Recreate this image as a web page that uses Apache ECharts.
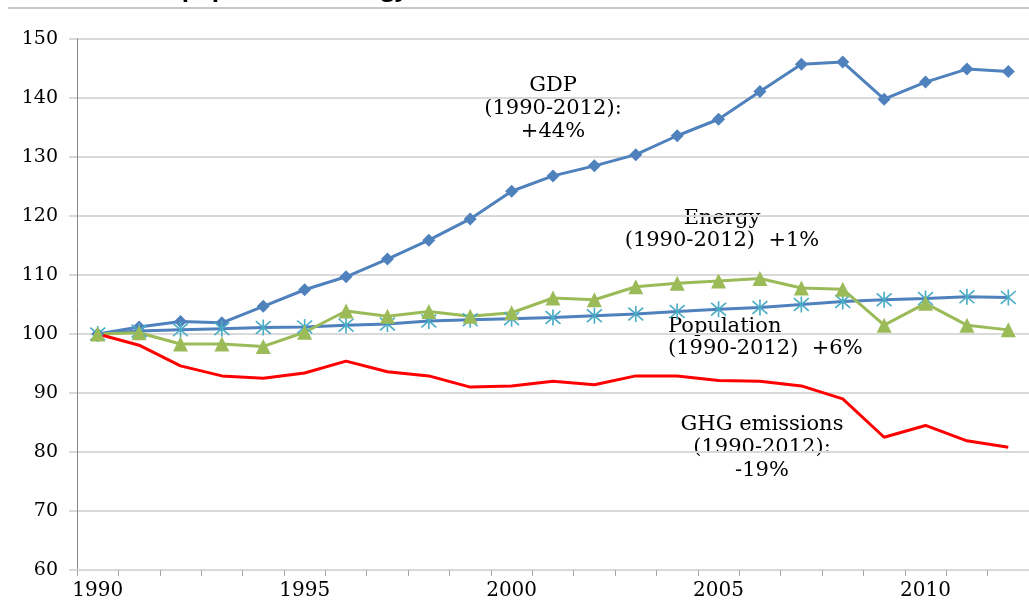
<!DOCTYPE html>
<html>
<head>
<meta charset="utf-8">
<script src="https://cdn.jsdelivr.net/npm/echarts@6/dist/echarts.min.js"></script>
<style>
  html, body { margin: 0; padding: 0; background: #fff; }
  #main { width: 1029px; height: 601px; }
</style>
</head>
<body>
<div id="main"></div>
<script>
// years on the x axis
var years = ['1990','1991','1992','1993','1994','1995','1996','1997','1998','1999','2000',
             '2001','2002','2003','2004','2005','2006','2007','2008','2009','2010','2011','2012'];
// index, 1990 = 100
var gdp = [100, 101.2, 102.1, 101.9, 104.7, 107.5, 109.7, 112.7, 115.9, 119.5, 124.2,
           126.8, 128.5, 130.4, 133.6, 136.4, 141.1, 145.7, 146.1, 139.8, 142.7, 144.9, 144.5];
var population = [100, 100.5, 100.7, 100.9, 101.1, 101.2, 101.5, 101.7, 102.2, 102.4, 102.6,
                  102.8, 103.1, 103.4, 103.8, 104.2, 104.5, 105.0, 105.5, 105.8, 106.0, 106.3, 106.2];
var energy = [100, 100.2, 98.3, 98.3, 97.9, 100.3, 103.9, 103.0, 103.8, 103.0, 103.6,
              106.1, 105.8, 108.0, 108.6, 109.0, 109.4, 107.8, 107.6, 101.5, 105.2, 101.5, 100.7];
var ghg = [100, 98.1, 94.6, 92.9, 92.5, 93.4, 95.4, 93.6, 92.9, 91.0, 91.2,
           92.0, 91.4, 92.9, 92.9, 92.1, 92.0, 91.2, 89.0, 82.5, 84.5, 81.9, 80.8];

var serif = 'DejaVu Serif';
// asterisk marker (like the Excel star marker)
var starPath = 'path://M9,0 L11,0 L11,20 L9,20 Z M1.66,1.25 L19.66,17.25 L18.34,18.75 L0.34,2.75 Z M18.34,1.25 L19.66,2.75 L1.66,18.75 L0.34,17.25 Z';

var myChart = echarts.init(document.getElementById('main'));
var option = {
  animation: false,
  backgroundColor: '#fff',
  grid: { left: 77, top: 39, bottom: 30, right: -12 },
  xAxis: {
    type: 'category',
    data: years,
    boundaryGap: true,
    axisLine: { lineStyle: { color: '#d9d9d9', width: 2 } },
    axisTick: { show: true, interval: 0, length: 6, lineStyle: { color: '#a6a6a6' } },
    axisLabel: { interval: 4, fontFamily: serif, fontSize: 20, color: '#000', margin: 11 },
    splitLine: { show: false }
  },
  yAxis: {
    type: 'value',
    min: 60,
    max: 150,
    interval: 10,
    axisLine: { show: true, lineStyle: { color: '#868686', width: 1 } },
    axisTick: { show: true, length: 8, lineStyle: { color: '#d9d9d9', width: 2 } },
    axisLabel: { fontFamily: serif, fontSize: 19, color: '#000', margin: 19 },
    splitLine: { lineStyle: { color: '#d9d9d9', width: 2 } }
  },
  series: [
    {
      name: 'GDP', type: 'line', data: gdp,
      symbol: 'diamond', symbolSize: 13,
      lineStyle: { color: '#4f81bd', width: 3 },
      itemStyle: { color: '#4f81bd' }
    },
    {
      name: 'Population', type: 'line', data: population,
      symbol: starPath, symbolSize: 16,
      lineStyle: { color: '#4f81bd', width: 3 },
      itemStyle: { color: '#4bacc6' }
    },
    {
      name: 'Energy', type: 'line', data: energy,
      symbol: 'triangle', symbolSize: 15,
      lineStyle: { color: '#9bbb59', width: 3 },
      itemStyle: { color: '#9bbb59' }
    },
    {
      name: 'GHG emissions', type: 'line', data: ghg,
      symbol: 'none',
      lineStyle: { color: '#ff0000', width: 3 },
      itemStyle: { color: '#ff0000' }
    }
  ],
  graphic: [
    // cut-off heading at the top of the picture
    { type: 'text', x: 0, y: 1, style: { text: 'Trends of GDP, population, energy and GHG emissions (index, 1990 = 100)', font: 'bold 24px "Open Sans"', fill: '#000', verticalAlign: 'bottom' } },
    { type: 'rect', shape: { x: 8, y: 7, width: 1021, height: 2 }, style: { fill: '#c8c8c8' } },
    { type: 'text', x: 553, y: 74, style: { text: 'GDP\n(1990-2012):\n+44%', font: '21px "DejaVu Serif"', fill: '#000', align: 'center', verticalAlign: 'top', lineHeight: 23 } },
    { type: 'text', x: 722, y: 208, style: { text: 'Energy\n(1990-2012)  +1%', font: '21px "DejaVu Serif"', fill: '#000', align: 'center', verticalAlign: 'top', lineHeight: 22 } },
    { type: 'text', x: 668, y: 316, style: { text: 'Population\n(1990-2012)  +6%', font: '21px "DejaVu Serif"', fill: '#000', align: 'left', verticalAlign: 'top', lineHeight: 22 } },
    { type: 'text', x: 762, y: 413, style: { text: 'GHG emissions\n(1990-2012):\n-19%', font: '21px "DejaVu Serif"', fill: '#000', align: 'center', verticalAlign: 'top', lineHeight: 23 } }
  ]
};
myChart.setOption(option);
</script>
</body>
</html>
